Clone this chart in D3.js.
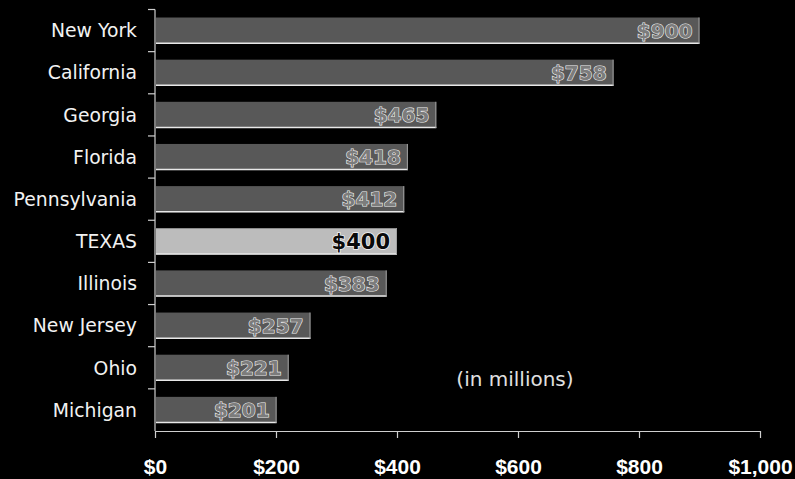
<!DOCTYPE html>
<html>
<head>
<meta charset="utf-8">
<script src="https://cdn.jsdelivr.net/npm/d3@7"></script>
<style>
  html, body { margin: 0; padding: 0; background: #000; }
  svg { display: block; }
</style>
</head>
<body>
<svg id="chart" width="795" height="479"></svg>
<script>
const categories = ["New York","California","Georgia","Florida","Pennsylvania","TEXAS","Illinois","New Jersey","Ohio","Michigan"];
const values = [900, 758, 465, 418, 412, 400, 383, 257, 221, 201];
const highlight = ["TEXAS"];
const tickValues = [0, 200, 400, 600, 800, 1000];
const tickLabels = ["$0","$200","$400","$600","$800","$1,000"];
const note = "(in millions)";
const noteAt = 595; // value position of the note's centre on the x scale

const data = categories.map((c, i) => ({ name: c, value: values[i] }));

const svg = d3.select("#chart");
svg.append("rect").attr("width", 795).attr("height", 479).attr("fill", "#000");

const x = d3.scaleLinear().domain([0, 1000]).range([155, 760]);
const y = d3.scaleBand().domain(categories).range([9.5, 431])
  .paddingInner(0.38).paddingOuter(0.19);

const step = y.step();
const gapHalf = step * y.paddingInner() / 2;

// bars
const bars = svg.append("g");
bars.selectAll("rect.bar").data(data).join("rect")
  .attr("class", "bar")
  .attr("x", x(0) + 1)
  .attr("y", d => y(d.name))
  .attr("width", d => x(d.value) - x(0) - 1)
  .attr("height", y.bandwidth())
  .attr("fill", d => highlight.includes(d.name) ? "#bcbcbc" : "#585858");

// bottom highlight edge
bars.selectAll("line.edge").data(data).join("line")
  .attr("class", "edge")
  .attr("x1", x(0) + 1)
  .attr("x2", d => x(d.value))
  .attr("y1", d => y(d.name) + y.bandwidth() - 0.5)
  .attr("y2", d => y(d.name) + y.bandwidth() - 0.5)
  .attr("stroke", "#e8e8e8")
  .attr("stroke-width", 1.5);

// right edge
bars.selectAll("line.redge").data(data).join("line")
  .attr("class", "redge")
  .attr("x1", d => x(d.value) - 0.5)
  .attr("x2", d => x(d.value) - 0.5)
  .attr("y1", d => y(d.name))
  .attr("y2", d => y(d.name) + y.bandwidth())
  .attr("stroke", "#a0a0a0")
  .attr("stroke-width", 1);

// value labels
svg.append("g").selectAll("text").data(data).join("text")
  .attr("x", d => x(d.value) - 7)
  .attr("y", d => y(d.name) + y.bandwidth() / 2)
  .attr("dy", "0.36em")
  .attr("text-anchor", "end")
  .attr("font-family", "DejaVu Sans, Verdana, sans-serif")
  .attr("font-weight", "bold")
  .attr("font-size", d => highlight.includes(d.name) ? 21 : 20)
  .attr("fill", d => highlight.includes(d.name) ? "#0a0a0a" : "#7c7c7c")
  .attr("stroke", d => highlight.includes(d.name) ? "#f4f4f4" : "#f2f2f2")
  .attr("stroke-width", d => highlight.includes(d.name) ? 1.5 : 1.2)
  .attr("paint-order", "stroke")
  .text(d => "$" + d3.format(",")(d.value));

// y axis (category axis) with ticks at band boundaries
const yAxis = svg.append("g");
yAxis.append("line")
  .attr("x1", x(0)).attr("x2", x(0))
  .attr("y1", y(categories[0]) - gapHalf)
  .attr("y2", y(categories[categories.length - 1]) + y.bandwidth() + gapHalf)
  .attr("stroke", "#cfcfcf").attr("stroke-width", 1.2);
const boundaries = categories.map(c => y(c) - gapHalf);
yAxis.selectAll("line.tick").data(boundaries).join("line")
  .attr("class", "tick")
  .attr("x1", x(0) - 7).attr("x2", x(0))
  .attr("y1", d => d).attr("y2", d => d)
  .attr("stroke", "#cfcfcf").attr("stroke-width", 1.2);

yAxis.selectAll("text").data(categories).join("text")
  .attr("x", x(0) - 18)
  .attr("y", d => y(d) + y.bandwidth() / 2)
  .attr("dy", "0.36em")
  .attr("text-anchor", "end")
  .attr("font-family", "DejaVu Sans, Verdana, sans-serif")
  .attr("font-size", 18.8)
  .attr("fill", "#f2f2f2")
  .text(d => d);

// x axis
const xAxisG = svg.append("g")
  .attr("transform", `translate(0,${y(categories[categories.length - 1]) + y.bandwidth() + gapHalf})`)
  .call(d3.axisBottom(x)
    .tickValues(tickValues)
    .tickFormat((d, i) => tickLabels[i])
    .tickSizeInner(7)
    .tickSizeOuter(0)
    .tickPadding(21));
xAxisG.select(".domain").attr("stroke", "#cfcfcf").attr("stroke-width", 1.2);
xAxisG.selectAll(".tick line").attr("stroke", "#cfcfcf").attr("stroke-width", 1.2);
xAxisG.selectAll(".tick text")
  .attr("font-family", "Liberation Sans, Arial, sans-serif")
  .attr("font-weight", "bold")
  .attr("font-size", 21)
  .attr("fill", "#ffffff");

// note
svg.append("text")
  .attr("x", x(noteAt))
  .attr("y", 386)
  .attr("text-anchor", "middle")
  .attr("font-family", "DejaVu Sans, Verdana, sans-serif")
  .attr("font-size", 20)
  .attr("fill", "#e0e0e0")
  .text(note);
</script>
</body>
</html>
